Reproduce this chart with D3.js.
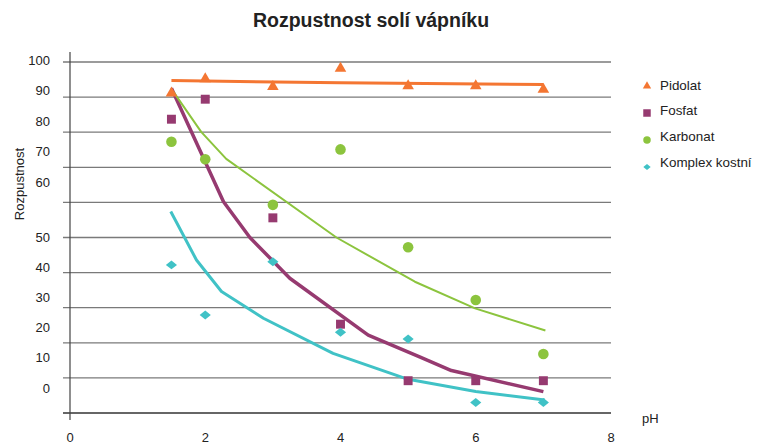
<!DOCTYPE html>
<html>
<head>
<meta charset="utf-8">
<script src="https://cdn.jsdelivr.net/npm/d3@7"></script>
<style>
  body { margin: 0; background: #fff; }
  svg { display: block; font-family: "Liberation Sans", Arial, sans-serif; }
</style>
</head>
<body>
<svg id="chart" width="757" height="443"></svg>
<script>
// pH values where samples were measured
const phValues = [1.5, 2, 3, 4, 5, 6, 7];

// measured solubility per salt
const pidolat = [91.1, 95.2, 93, 98.2, 93.2, 93.2, 92.2];
const fosfat = [83.7, 89.4, 55.6, 25.3, 9.2, 9.2, 9.2];
const karbonat = [77.3, 72.3, 59.3, 75.1, 47.2, 32.2, 16.8];
const komplex = [42.2, 27.9, 43.1, 23, 21.1, 3, 3];

// trend lines ([pH, value])
const pidolatTrend = [[1.5, 94.7], [4, 94.1], [7, 93.6]];
const fosfatTrend = [[1.5, 92.5], [2.27, 60.2], [2.66, 50], [3.25, 38.4], [4.41, 22.2], [5.17, 16], [5.64, 12.1], [7, 6.1]];
const karbonatTrend = [[1.53, 91.5], [1.94, 80.1], [2.31, 72.4], [3.94, 50], [5.1, 37.4], [5.99, 29.8], [7.03, 23.5]];
const komplexTrend = [[1.49, 57.4], [1.87, 43.6], [2.24, 34.6], [2.86, 27], [3.89, 17], [5.0, 9.6], [6, 6.1], [7.02, 3.7]];

// axis tick labels
const xTicks = [0, 2, 4, 6, 8];
const yGrid = d3.range(0, 101, 10);
const yTickLabels = [0, 10, 20, 30, 40, 50, 60, 70, 80, 90, 100];

const seriesNames = ["Pidolat", "Fosfat", "Karbonat", "Komplex kostní"];

const svg = d3.select("#chart");

const x = d3.scaleLinear().domain([0, 8]).range([70, 611]);
const y = d3.scaleLinear().domain([0, 100]).range([413, 62]);
// the labels in the original sit off the gridlines, with a gap above 50
const yLabel = d3.scaleLinear().domain([0, 50, 60, 100]).range([388, 237, 182, 60]);

// diamond that is wider than tall, like the Excel marker
const wideDiamond = {
  draw(ctx, size) {
    const w = Math.sqrt(size * 1.25) / 2;
    const h = w * 0.8;
    ctx.moveTo(-w, 0);
    ctx.lineTo(0, -h);
    ctx.lineTo(w, 0);
    ctx.lineTo(0, h);
    ctx.closePath();
  }
};

const series = [
  {name: seriesNames[0], values: pidolat, trend: pidolatTrend, color: "#f47632", width: 3, type: d3.symbolTriangle, size: 58, legendSize: 30},
  {name: seriesNames[1], values: fosfat, trend: fosfatTrend, color: "#963a70", width: 3.5, type: d3.symbolSquare, size: 80, legendSize: 56},
  {name: seriesNames[2], values: karbonat, trend: karbonatTrend, color: "#8cc43e", width: 2, type: d3.symbolCircle, size: 88, legendSize: 44},
  {name: seriesNames[3], values: komplex, trend: komplexTrend, color: "#40c2c6", width: 3, type: wideDiamond, size: 100, legendSize: 44}
];

// gridlines
svg.append("g")
  .selectAll("line")
  .data(yGrid)
  .join("line")
  .attr("x1", 63)
  .attr("x2", x(8))
  .attr("y1", d => y(d))
  .attr("y2", d => y(d))
  .attr("stroke", d => d === 0 ? "#333" : "#7a7a7a")
  .attr("stroke-width", 1.3);

// vertical axis
svg.append("line")
  .attr("x1", x(0)).attr("x2", x(0))
  .attr("y1", y(100) - 10).attr("y2", y(0) + 7)
  .attr("stroke", "#444")
  .attr("stroke-width", 1.2);

// y tick labels
svg.append("g")
  .selectAll("text")
  .data(yTickLabels)
  .join("text")
  .attr("x", 50)
  .attr("y", d => yLabel(d))
  .attr("dy", "0.35em")
  .attr("text-anchor", "end")
  .attr("font-size", 13)
  .attr("fill", "#222")
  .text(d => d);

// x tick labels, right at the bottom edge
svg.append("g")
  .selectAll("text")
  .data(xTicks)
  .join("text")
  .attr("x", d => x(d))
  .attr("y", 442)
  .attr("text-anchor", "middle")
  .attr("font-size", 13)
  .attr("fill", "#222")
  .text(d => d);

// axis titles
svg.append("text")
  .attr("x", 642)
  .attr("y", 423)
  .attr("font-size", 13)
  .attr("fill", "#222")
  .text("pH");

svg.append("text")
  .attr("transform", "translate(24,184) rotate(-90)")
  .attr("text-anchor", "middle")
  .attr("font-size", 13)
  .attr("fill", "#222")
  .text("Rozpustnost");

// title
svg.append("text")
  .attr("x", 371)
  .attr("y", 27)
  .attr("text-anchor", "middle")
  .attr("font-size", 19.5)
  .attr("font-weight", "bold")
  .attr("fill", "#222")
  .text("Rozpustnost solí vápníku");

// trend lines
const line = d3.line()
  .x(d => x(d[0]))
  .y(d => y(d[1]));

svg.append("g")
  .selectAll("path")
  .data(series)
  .join("path")
  .attr("d", d => line(d.trend))
  .attr("fill", "none")
  .attr("stroke", d => d.color)
  .attr("stroke-width", d => d.width)
  .attr("stroke-linejoin", "round");

// markers
series.forEach(s => {
  svg.append("g")
    .selectAll("path")
    .data(s.values)
    .join("path")
    .attr("transform", (d, i) => `translate(${x(phValues[i])},${y(d)})`)
    .attr("d", d3.symbol().type(s.type).size(s.size))
    .attr("fill", s.color);
});

// legend
const legend = svg.append("g")
  .selectAll("g")
  .data(series)
  .join("g")
  .attr("transform", (d, i) => `translate(647,${86 + i * 27})`);

legend.append("path")
  .attr("d", d => d3.symbol().type(d.type).size(d.legendSize)())
  .attr("fill", d => d.color);

legend.append("text")
  .attr("x", 13)
  .attr("y", (d, i) => -1 - i * 1.3)
  .attr("dy", "0.35em")
  .attr("font-size", 13.4)
  .attr("fill", "#222")
  .text(d => d.name);
</script>
</body>
</html>
